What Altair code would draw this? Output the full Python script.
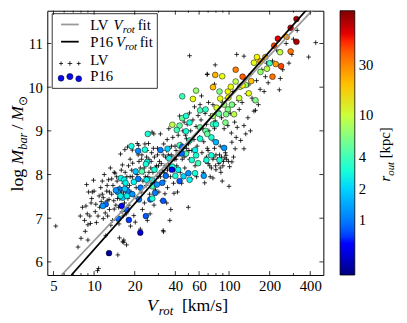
import altair as alt
import pandas as pd
import math

# ---------------- data ----------------
# LV sample: (V_rot [km/s], log M_bar)
lv_low = [(5.2, 6.82), (7.6, 6.34), (8.0, 6.54), (7.9, 7.05), (9.0, 6.50), (10.6, 5.80),
          (10.8, 5.85), (15.0, 6.16), (16.3, 6.46)]
lv_a = [(8.2, 7.25), (8.5, 6.95), (8.8, 7.77), (9.0, 6.85), (9.4, 6.88), (8.7, 7.28), (9.9, 7.87),
        (9.7, 7.60), (9.3, 7.05), (9.6, 7.45), (10.2, 7.15), (10.3, 7.32), (9.1, 7.60), (8.9, 7.10),
        (10.0, 7.62), (9.5, 7.35), (8.6, 6.70), (10.4, 6.90)]
lv_b = [(10.9, 7.51), (11.7, 7.47), (11.7, 6.99), (12.1, 7.12), (12.9, 7.43), (12.6, 7.05), (13.3, 6.84),
        (14.1, 7.21), (14.3, 8.03), (14.9, 7.45), (14.1, 8.05), (11.2, 7.70), (11.5, 7.85), (12.0, 7.30),
        (12.4, 7.62), (12.8, 7.88), (13.0, 7.20), (13.5, 7.55), (13.8, 7.75), (14.5, 7.65), (11.0, 7.25),
        (12.2, 6.60), (13.7, 6.95), (14.7, 7.95), (10.7, 7.05), (11.9, 8.00), (13.2, 8.15), (14.0, 7.40),
        (12.5, 7.40), (11.3, 7.38)]
lv_c = [(15.3, 6.87), (15.4, 6.55), (15.7, 8.47), (16.2, 8.22), (16.4, 7.05), (16.6, 6.50), (16.6, 6.45),
        (16.9, 8.57), (17.4, 6.39), (15.5, 7.70), (15.8, 7.90), (16.0, 7.55), (16.5, 7.80), (16.8, 7.35),
        (17.0, 8.05), (17.2, 7.65), (17.5, 7.95), (17.8, 7.45), (18.0, 8.20), (18.3, 7.75), (18.6, 6.82),
        (18.8, 7.60), (19.0, 8.10), (19.3, 8.26), (19.5, 7.85), (19.7, 7.06), (17.7, 8.63), (15.2, 7.25),
        (16.1, 7.15), (18.1, 7.30), (19.8, 7.50), (15.9, 8.10), (17.3, 7.10), (18.5, 8.35), (19.2, 7.95),
        (19.2, 8.56)]
lv_d = [(20.2, 6.91), (20.9, 8.71), (21.4, 8.67), (25.3, 8.71), (26.0, 7.10), (20.5, 7.70), (20.8, 8.00),
        (21.0, 7.45), (21.5, 8.30), (21.8, 7.90), (22.0, 8.15), (22.3, 7.60), (22.6, 8.45), (23.0, 7.85),
        (23.3, 8.05), (23.6, 7.35), (24.0, 8.25), (24.3, 7.75), (24.6, 8.55), (25.0, 7.95), (25.5, 8.35),
        (25.8, 7.55), (26.3, 8.15), (26.7, 8.50), (27.0, 7.80), (27.7, 8.93), (27.3, 8.05), (28.0, 8.40),
        (28.5, 7.65), (29.0, 8.20), (29.5, 8.60), (26.9, 8.97), (22.8, 7.20), (24.8, 6.95), (27.8, 7.30),
        (21.2, 8.45), (23.8, 8.70), (29.8, 7.95), (22.0, 6.75)]
lv_e = [(31.0, 8.93), (32.5, 6.72), (32.7, 6.69), (33.5, 7.56), (36.4, 6.95), (36.6, 8.35), (39.1, 7.57),
        (30.5, 8.30), (31.0, 7.95), (31.5, 8.55), (32.0, 8.10), (32.8, 8.70), (33.0, 7.85), (33.8, 8.40),
        (34.2, 8.00), (34.8, 8.80), (35.0, 7.70), (35.5, 8.25), (36.0, 8.60), (36.8, 7.95), (37.3, 8.45),
        (37.8, 8.15), (38.3, 8.85), (38.8, 7.80), (39.5, 8.35), (30.2, 7.60), (34.5, 7.35), (37.0, 7.20),
        (39.8, 8.65), (35.8, 9.05), (31.8, 7.40)]
lv_f = [(43.0, 9.34), (48.4, 8.82), (49.9, 7.25), (40.5, 8.55), (41.0, 8.20), (42.0, 8.90), (42.5, 8.45),
        (43.5, 8.05), (44.0, 8.70), (45.0, 8.35), (45.5, 9.00), (46.0, 8.60), (47.0, 8.15), (47.5, 8.90),
        (48.0, 8.45), (49.0, 9.15), (50.0, 8.70), (51.0, 8.35), (51.0, 9.41), (52.0, 9.00), (53.0, 8.55),
        (54.0, 9.25), (55.0, 8.80), (56.0, 8.20), (57.0, 9.10), (58.0, 8.65), (59.0, 9.35), (44.5, 7.80),
        (52.5, 7.90), (46.5, 9.20), (41.5, 7.60), (55.5, 9.55), (57.5, 7.95)]
lv_g = [(61.0, 9.60), (66.0, 7.81), (68.9, 10.29), (76.0, 9.60), (76.0, 7.92), (79.0, 9.23), (60.5, 8.85),
        (62.0, 9.25), (63.0, 8.50), (64.0, 9.05), (65.0, 8.75), (66.5, 9.40), (67.0, 8.30), (68.0, 9.15),
        (69.0, 8.60), (70.0, 8.25), (71.0, 9.00), (72.0, 8.45), (73.0, 9.35), (74.0, 8.15), (75.0, 8.80),
        (77.0, 8.40), (78.0, 9.05), (79.5, 8.20), (62.5, 9.80), (70.5, 9.65), (64.5, 8.05), (72.5, 7.95)]
lv_h = [(78.0, 10.07), (80.0, 8.11), (89.0, 7.85), (89.5, 9.65), (95.0, 8.44), (98.0, 9.12), (100.0, 7.73),
        (105.0, 8.74), (105.0, 8.29), (109.0, 9.60), (111.0, 8.59), (115.0, 9.08), (119.0, 9.49), (82.0, 8.35),
        (84.0, 9.45), (86.0, 8.65), (88.0, 9.30), (90.0, 8.20), (92.0, 9.05), (94.0, 8.50), (96.0, 9.75),
        (99.0, 8.30), (102.0, 9.40), (104.0, 8.95), (107.0, 9.90), (110.0, 9.20), (113.0, 8.85), (117.0, 9.70),
        (85.0, 8.45), (93.0, 8.38), (101.0, 8.18), (108.0, 8.40), (91.0, 8.30), (87.0, 8.05)]
lv_i = [(122.0, 8.78), (129.0, 8.59), (129.0, 9.12), (133.0, 8.93), (144.0, 9.00), (153.0, 9.69),
        (153.0, 9.45), (157.0, 9.47), (182.0, 9.90), (186.0, 10.24), (114.0, 10.75), (129.0, 10.71),
        (125.0, 9.65), (135.0, 9.85), (140.0, 10.05), (148.0, 9.75), (160.0, 10.15), (170.0, 9.95),
        (175.0, 10.40), (190.0, 10.55), (165.0, 9.60), (138.0, 9.30), (195.0, 10.10), (145.0, 10.30)]
lv_j = [(236.0, 9.94), (278.0, 10.55), (292.0, 10.75), (389.0, 10.69), (439.0, 11.02), (210.0, 10.60),
        (225.0, 10.85), (250.0, 10.40), (265.0, 11.00), (300.0, 11.10), (320.0, 11.30), (240.0, 10.20)]
lv_out = [(51.0, 10.72), (79.0, 10.51), (69.0, 10.30)]
lv_core = [(22.5, 8.35), (23.5, 8.15), (24.5, 8.40), (25.5, 8.05), (26.5, 8.30), (27.5, 8.60), (28.5, 8.15),
           (29.5, 8.45), (30.5, 8.05), (31.5, 8.25), (32.5, 8.45), (33.5, 8.20), (34.5, 8.55), (35.5, 8.45),
           (36.5, 8.15), (37.5, 8.65), (38.5, 8.40), (39.5, 8.10), (40.5, 8.35), (42.5, 8.65), (44.5, 8.50),
           (46.5, 8.40), (48.5, 8.60), (50.5, 8.55), (24.0, 7.95), (26.0, 7.90), (28.0, 7.85), (30.0, 8.20),
           (33.0, 8.05), (35.0, 8.10), (68.0, 8.40), (72.0, 8.20), (76.0, 8.35), (80.0, 8.45), (84.0, 8.25),
           (88.0, 8.40), (96.0, 8.35), (70.0, 8.55), (78.0, 8.60), (86.0, 8.15), (12.5, 7.75), (13.5, 7.90),
           (14.5, 7.30), (15.5, 7.45), (16.5, 7.60), (17.5, 7.70), (18.5, 7.95), (13.0, 7.60), (11.5, 7.55),
           (14.8, 7.85)]

# P16 sample: (V_rot [km/s], log M_bar, r_out [kpc])
p16_high = [(316, 11.56, 80), (286, 11.36, 70), (230, 11.11, 60), (316, 11.04, 80), (267, 11.15, 25),
            (216, 10.95, 45), (286, 10.82, 35), (239, 10.80, 9), (243, 10.48, 45), (222, 10.53, 25),
            (210, 10.24, 35), (161, 10.69, 13), (153, 10.56, 12), (171, 10.59, 22), (186, 10.69, 22),
            (200, 10.55, 4), (191, 10.42, 9), (171, 10.35, 7), (112, 10.40, 32), (126, 10.24, 40),
            (79, 10.28, 22), (89, 10.25, 12), (76, 10.00, 20), (57, 9.92, 7), (54, 9.73, 12),
            (45, 9.79, 4), (85, 9.90, 6), (98, 9.90, 13), (103, 10.01, 12), (112, 10.13, 9),
            (133, 10.05, 7), (146, 10.14, 20), (157, 9.70, 6), (140, 9.86, 12), (121, 10.01, 10)]
p16_mid = [(126, 10.04, 13), (86, 9.74, 12), (99, 9.76, 13), (119, 9.75, 10), (92, 9.60, 7),
           (105, 9.60, 6), (81, 9.53, 11), (98, 9.49, 6), (109, 9.38, 9), (95, 9.38, 6), (84, 9.39, 5),
           (61, 9.47, 4), (67, 9.49, 3.5), (76, 9.34, 8), (45, 9.29, 5), (48, 9.34, 3), (51, 9.19, 3),
           (38, 9.14, 9), (43, 9.12, 5), (41, 9.02, 4), (48, 8.99, 3), (61, 9.08, 5), (67, 9.00, 5),
           (76, 9.15, 4), (80, 9.15, 3), (94, 9.19, 6), (80, 8.74, 1.5), (92, 8.61, 1.2), (74, 8.85, 3),
           (61, 8.82, 3), (69, 8.93, 5), (51, 8.78, 3), (56, 8.56, 2.5), (57, 8.44, 3), (68, 8.33, 3),
           (74, 8.44, 3), (85, 8.33, 3), (48, 8.48, 4), (43, 8.67, 4), (31, 8.56, 1), (35, 8.59, 2),
           (36, 8.37, 2.5), (45, 8.63, 0.9), (38, 8.18, 3), (42, 8.11, 2.5), (46, 7.96, 2), (40, 7.97, 3),
           (50, 8.03, 1.2), (43, 7.85, 0.8), (51, 7.88, 2.5), (56, 8.03, 3), (65, 7.97, 1.3),
           (34, 7.97, 0.9), (32, 7.81, 1), (27, 7.88, 2.5), (28, 8.11, 3), (27, 7.73, 4), (25, 8.93, 3)]
p16_low = [(18.9, 8.65, 2.7), (21.2, 8.54, 1.1), (24.7, 8.29, 2.5), (15.8, 7.92, 2.5), (16.7, 7.88, 2.5),
           (15.4, 7.66, 1), (17.7, 7.62, 1), (16.3, 7.47, 2), (19.2, 7.55, 1.2), (22.1, 7.70, 1),
           (24.5, 7.88, 2.5), (20.3, 8.07, 1.8), (29.2, 7.77, 1.2), (16.0, 7.28, 0.6), (21.5, 7.43, 1),
           (26.1, 7.43, 0.9), (37.7, 8.11, 0.6), (44.6, 8.48, 0.9), (59, 8.26, 4), (53, 8.33, 3),
           (24.2, 8.24, 3), (22.6, 8.07, 4.5), (21.2, 7.90, 1), (19.7, 7.83, 2.5), (17.1, 7.81, 2.5),
           (16.9, 7.67, 1.8), (15.0, 7.60, 1.2), (15.7, 7.51, 2.5), (14.5, 7.64, 1.2), (17.5, 7.51, 2.5),
           (12.2, 7.32, 0.9), (11.6, 7.28, 1.2), (17.5, 7.19, 0.8), (15.1, 6.99, 0.9), (18.1, 6.96, 0.7),
           (24.2, 7.05, 0.8), (22.0, 6.67, 0.45), (12.9, 6.20, 0.35), (27.0, 7.45, 3), (32.5, 7.40, 0.8),
           (28.3, 7.58, 1), (23.8, 8.57, 3)]

# fit lines (end points)
lv_fit_v = [5.74, 430.0]
lv_fit_m = [5.70, 11.81]
p16_fit_v = [6.79, 385.0]
p16_fit_m = [5.70, 11.81]

# axes
x_major = [5, 10, 20, 40, 60, 100, 200, 400]
x_minor = [6, 7, 8, 9, 30, 50, 70, 80, 90, 300]
y_major = [6, 7, 8, 9, 10, 11]
cbar_ticks = [1, 2, 4, 10, 30]
X_DOMAIN = [4.5, 500]
Y_DOMAIN = [5.7, 11.75]
R_RANGE = [0.3, 100]

# ---------------- styling ----------------
W, H = 281, 269
FONT = "Liberation Serif"

# jet colormap key points (fraction, colour)
jet = [(0.0, "#000080"), (0.11, "#0000ff"), (0.125, "#0000ff"), (0.34, "#00dbff"),
       (0.375, "#14ffe2"), (0.64, "#eeff08"), (0.66, "#ffec00"), (0.89, "#ff1300"),
       (0.91, "#e80000"), (1.0, "#800000")]
lo, hi = math.log10(R_RANGE[0]), math.log10(R_RANGE[1])
c_domain = [10 ** (lo + f * (hi - lo)) for f, _ in jet]
c_range = [c for _, c in jet]

lv_df = pd.DataFrame(lv_low + lv_a + lv_b + lv_c + lv_d + lv_e + lv_f + lv_g + lv_h + lv_i + lv_j
                     + lv_out + lv_core, columns=["V", "M"])
p16_df = pd.DataFrame(p16_high + p16_mid + p16_low, columns=["V", "M", "R"])

xscale = alt.Scale(type="log", domain=X_DOMAIN, nice=False, zero=False)
yscale = alt.Scale(domain=Y_DOMAIN, nice=False, zero=False)

ax_common = dict(title=None, ticks=False, tickSize=0, domain=False, grid=False, labelFont=FONT,
                 labelFontSize=15, labelColor="black", labelFlush=False, format="d")
x_axis = alt.Axis(values=x_major, labelPadding=4, **ax_common)
y_axis = alt.Axis(values=y_major, labelPadding=5, **ax_common)


def X(field):
    return alt.X(field, type="quantitative", scale=xscale, axis=x_axis)


def Y(field):
    return alt.Y(field, type="quantitative", scale=yscale, axis=y_axis)


cross = "M-1,0L1,0M0,-1L0,1"

lv_layer = alt.Chart(lv_df).mark_point(shape=cross, filled=False, stroke="black", strokeWidth=0.8,
                                       size=22, opacity=1).encode(x=X("V"), y=Y("M"))

p16_layer = alt.Chart(p16_df).mark_point(shape="circle", filled=True, stroke="black", strokeWidth=0.5,
                                         size=34, opacity=1).encode(
    x=X("V"), y=Y("M"),
    color=alt.Color("R:Q", scale=alt.Scale(type="log", domain=c_domain, range=c_range),
                    legend=alt.Legend(orient="none", legendX=298, legendY=0, direction="vertical",
                                      gradientLength=H, gradientThickness=15, title=None,
                                      values=cbar_ticks, format="d", labelFont=FONT, labelFontSize=15,
                                      labelColor="black", labelOffset=4, labelOverlap=False,
                                      gradientStrokeColor="black", gradientStrokeWidth=0.8, padding=0)),
)


def fit_line(vs, ms, color):
    df = pd.DataFrame({"V": vs, "M": ms})
    return alt.Chart(df).mark_line(color=color, strokeWidth=1.8, clip=True).encode(x=X("V"), y=Y("M"))


lv_fit = fit_line(lv_fit_v, lv_fit_m, "#999999")
p16_fit = fit_line(p16_fit_v, p16_fit_m, "black")

one = pd.DataFrame({"a": [0]})


def txt(s, x, y, size, italic=False, angle=0):
    kw = dict(align="left", baseline="alphabetic", font=FONT, fontSize=size, color="black")
    if italic:
        kw["fontStyle"] = "italic"
    if angle:
        kw["angle"] = angle
    return alt.Chart(one).mark_text(**kw).encode(x=alt.value(x), y=alt.value(y), text=alt.value(s))


def vrule(x1, x2, y, color, width=1.8):
    return alt.Chart(one).mark_rule(color=color, strokeWidth=width).encode(
        x=alt.value(x1), x2=alt.value(x2), y=alt.value(y))


def sym(x, y, shape, size, fill=None):
    if fill:
        m = alt.Chart(one).mark_point(shape=shape, filled=True, fill=fill, stroke="black",
                                      strokeWidth=0.5, size=size, opacity=1)
    else:
        m = alt.Chart(one).mark_point(shape=shape, filled=False, stroke="black", strokeWidth=0.8,
                                      size=size, opacity=1)
    return m.encode(x=alt.value(x), y=alt.value(y))


# legend box
legend_box = alt.Chart(one).mark_rect(fill="white", stroke="black", strokeWidth=0.8).encode(
    x=alt.value(5), x2=alt.value(112), y=alt.value(3), y2=alt.value(79))
legend_items = [
    vrule(14, 32, 14, "#999999"), vrule(14, 32, 31.5, "black"),
    sym(14, 53.7, cross, 16), sym(23, 53.7, cross, 22), sym(32, 53.7, cross, 16),
    sym(14, 68.7, "circle", 36, "#0a0aef"), sym(23, 67, "circle", 40, "#0a0aef"),
    sym(32, 69.3, "circle", 36, "#0a0aef"),
    txt("LV", 43.7, 19.3, 15), txt("V", 67.5, 19.3, 15, True), txt("rot", 76.7, 22.3, 11, True),
    txt("fit", 92, 19.3, 15),
    txt("P16", 43.7, 37, 15), txt("V", 70, 37, 15, True), txt("rot", 79, 40, 11, True),
    txt("fit", 94, 37, 15),
    txt("LV", 43.7, 55.3, 15), txt("P16", 43.7, 72, 15),
]

# axis titles
titles = [
    txt("V", 101.5, 306, 18, True), txt("rot", 113.5, 310, 13, True), txt("[km/s]", 137, 306, 18),
    txt("log", -25, 184, 18, angle=270), txt("M", -25, 156.5, 18, True, 270),
    txt("bar", -20.5, 141.5, 12.5, True, 270), txt("/", -25, 121, 18, angle=270),
    txt("M", -25, 112, 18, True, 270), txt("\u2299", -20.5, 97, 12.5, angle=270),
    txt("r", 349, 173.7, 15, True, 270), txt("out", 352.5, 167.9, 11, True, 270),
    txt("[kpc]", 349, 150.2, 15, angle=270),
]


# inward tick marks on all four sides
def xticks(vals, length):
    df = pd.DataFrame({"t": vals})
    b = alt.Chart(df).mark_rule(color="black", strokeWidth=0.8).encode(
        x=X("t"), y=alt.value(H), y2=alt.value(H - length))
    t = alt.Chart(df).mark_rule(color="black", strokeWidth=0.8).encode(
        x=X("t"), y=alt.value(0), y2=alt.value(length))
    return [b, t]


def yticks(vals, length):
    df = pd.DataFrame({"t": vals})
    l = alt.Chart(df).mark_rule(color="black", strokeWidth=0.8).encode(
        y=Y("t"), x=alt.value(0), x2=alt.value(length))
    r = alt.Chart(df).mark_rule(color="black", strokeWidth=0.8).encode(
        y=Y("t"), x=alt.value(W), x2=alt.value(W - length))
    return [l, r]


ticks = xticks(x_major, 4) + xticks(x_minor, 2) + yticks(y_major, 4)

chart = alt.layer(
    lv_layer, p16_layer, lv_fit, p16_fit, legend_box, *legend_items, *titles, *ticks
).properties(
    width=W, height=H,
    autosize=alt.AutoSizeParams(type="none"),
    padding={"left": 40, "top": 0, "right": 77, "bottom": 42},
).configure_view(stroke="black", strokeWidth=1)

chart.save("out.html", embed_options={"renderer": "svg", "actions": False})
